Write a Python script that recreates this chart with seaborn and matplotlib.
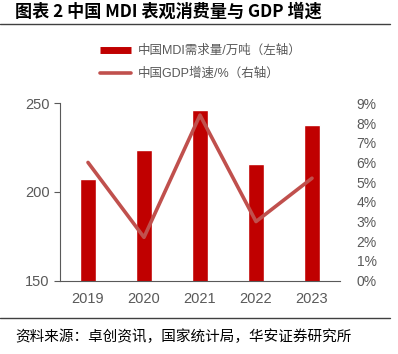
import matplotlib
matplotlib.use("Agg")
import matplotlib.pyplot as plt
import seaborn as sns
from matplotlib.lines import Line2D

years = ["2019", "2020", "2021", "2022", "2023"]
mdi_demand = [207.3, 223.5, 246.2, 215.8, 237.8]   # 万吨, left axis
gdp_growth = [6.0, 2.2, 8.4, 3.0, 5.2]             # %, right axis

bar_color = "#c00000"
line_color = "#c0504d"
grey = "#595959"

sns.set_style("white")
plt.rcParams["font.family"] = ["Liberation Sans", "Noto Sans CJK SC", "DejaVu Sans"]

fig = plt.figure(figsize=(3.98, 3.54), dpi=100)
ax = fig.add_axes([60 / 398, 1 - 280.7 / 354, 280 / 398, 177.4 / 354])

sns.barplot(x=years, y=mdi_demand, color=bar_color, width=0.3, saturation=1, ax=ax)
ax.set_ylim(150, 250)
ax.set_yticks([150, 200, 250])

ax2 = ax.twinx()
sns.lineplot(x=list(range(len(years))), y=gdp_growth, color=line_color, linewidth=2.6,
             ax=ax2, legend=False)
ax2.set_ylim(0, 9)
ax2.set_yticks(range(10))
ax2.set_yticklabels([f"{i}%" for i in range(10)])
ax.set_xlim(-0.5, 4.5)

# x ticks at category boundaries, labels in the middle
ax.set_xticks([i - 0.5 for i in range(6)])
ax.set_xticklabels([])
ax.set_xticks(range(5), minor=True)
ax.set_xticklabels(years, minor=True)
ax.tick_params(axis="x", which="major", length=4, width=0.8, color=grey, direction="out")
ax.tick_params(axis="x", which="minor", length=0, pad=8, labelsize=10.5, labelcolor=grey)
ax.tick_params(axis="y", length=4, width=0.8, color=grey, direction="out",
               labelsize=10.5, labelcolor=grey)
ax2.tick_params(axis="y", length=0, pad=12, labelsize=10, labelcolor=grey)

for a in (ax, ax2):
    for side in ("top", "right", "left", "bottom"):
        a.spines[side].set_visible(False)
for side in ("left", "bottom"):
    ax.spines[side].set_visible(True)
    ax.spines[side].set_color(grey)
    ax.spines[side].set_linewidth(0.8)
ax.set_xlabel("")
ax.set_ylabel("")
ax2.set_ylabel("")

handles = [
    Line2D([], [], color=bar_color, linewidth=5, solid_capstyle="butt"),
    Line2D([], [], color=line_color, linewidth=2.6, solid_capstyle="round"),
]
labels = ["中国MDI需求量/万吨（左轴）", "中国GDP增速/%（右轴）"]
fig.legend(handles, labels, loc="upper left", bbox_to_anchor=(100 / 398, 1 - 45 / 354),
           frameon=False, fontsize=9, labelcolor=grey, handlelength=2.5,
           handletextpad=0.5, labelspacing=0.85, borderpad=0, borderaxespad=0)

fig.text(15 / 398, 1 - 12 / 354, "图表 2 中国 MDI 表观消费量与 GDP 增速", fontsize=12.3,
         fontweight="bold", va="center", ha="left", color="black",
         family=["Noto Sans CJK SC", "DejaVu Sans"])
fig.add_artist(Line2D([0, 390 / 398], [1 - 24 / 354, 1 - 24 / 354], color="#404040",
                      linewidth=1, transform=fig.transFigure))
fig.add_artist(Line2D([0, 390 / 398], [1 - 318 / 354, 1 - 318 / 354], color="#404040",
                      linewidth=1, transform=fig.transFigure))
fig.text(15 / 398, 1 - 337 / 354, "资料来源：卓创资讯，国家统计局，华安证券研究所", fontsize=10.5,
         va="center", ha="left", color="black", family=["Noto Sans CJK SC", "DejaVu Sans"])

fig.savefig("out.png", dpi=100)
